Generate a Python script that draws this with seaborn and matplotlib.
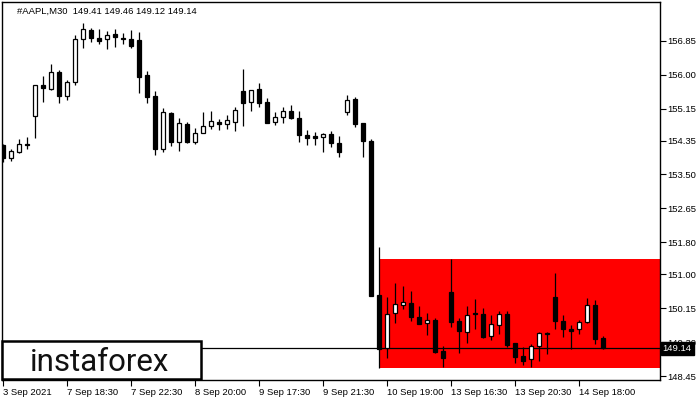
import numpy as np
import pandas as pd
import matplotlib
matplotlib.use("Agg")
import matplotlib.pyplot as plt
from matplotlib.patches import Rectangle
import seaborn as sns

# M30 candles
opens = [154.24, 153.91, 154.06, 154.26, 154.97, 155.73, 155.64, 156.06, 155.47, 155.82,
         156.89, 157.12, 156.91, 156.89, 157.01, 156.93, 156.89, 156.87, 155.99, 155.46,
         154.13, 155.03, 154.32, 154.76, 154.32, 154.54, 154.72, 154.81, 154.76, 154.82,
         155.59, 155.32, 155.63, 155.31, 154.82, 154.93, 155.10, 154.91, 154.49, 154.46,
         154.43, 154.51, 154.28, 155.07, 155.39, 154.78, 154.34, 150.48, 149.16, 150.02,
         150.24, 150.28, 149.92, 149.79, 149.85, 149.08, 150.55, 149.83, 149.56, 150.03,
         150.00, 149.46, 149.72, 150.00, 149.27, 148.95, 148.87, 149.21, 149.53, 150.42,
         149.83, 149.63, 149.63, 149.80, 150.22, 149.41]
highs = [154.27, 154.14, 154.39, 154.44, 155.74, 155.97, 156.27, 156.12, 155.87, 156.99,
         157.29, 157.16, 157.14, 157.09, 157.14, 157.05, 157.12, 157.06, 156.10, 155.59,
         155.16, 155.07, 154.91, 154.82, 154.67, 155.07, 155.10, 154.88, 154.99, 155.20,
         156.13, 155.61, 155.78, 155.41, 155.07, 155.20, 155.24, 155.09, 154.61, 154.57,
         154.53, 154.59, 154.46, 155.49, 155.43, 154.78, 154.39, 151.67, 150.42, 150.79,
         150.71, 150.58, 150.20, 150.02, 149.90, 149.20, 151.38, 149.90, 150.20, 150.37,
         150.15, 149.97, 150.08, 150.08, 149.27, 149.17, 149.25, 149.56, 149.55, 151.04,
         149.98, 149.73, 149.85, 150.40, 150.35, 149.46]
lows = [153.81, 153.84, 154.04, 154.14, 154.41, 155.32, 155.61, 155.29, 155.36, 155.74,
        156.66, 156.83, 156.77, 156.63, 156.70, 156.77, 156.66, 155.53, 155.30, 153.99,
        154.07, 154.21, 154.09, 154.28, 154.26, 154.53, 154.65, 154.61, 154.63, 154.60,
        154.71, 155.10, 155.18, 154.79, 154.74, 154.80, 154.88, 154.32, 154.24, 154.24,
        154.07, 154.18, 153.94, 154.99, 154.70, 153.94, 150.46, 148.66, 148.89, 149.79,
        150.12, 149.84, 149.76, 149.48, 149.02, 148.68, 149.67, 149.02, 149.27, 149.62,
        149.41, 149.35, 149.50, 149.18, 148.78, 148.73, 148.67, 148.83, 149.00, 149.62,
        149.42, 149.12, 149.50, 149.77, 149.25, 149.12]
closes = [153.91, 154.09, 154.26, 154.24, 155.74, 155.67, 156.06, 155.47, 155.82, 156.89,
          157.14, 156.91, 156.85, 156.99, 156.95, 156.89, 156.72, 155.95, 155.45, 154.13,
          155.06, 154.32, 154.78, 154.32, 154.55, 154.71, 154.84, 154.76, 154.86, 155.11,
          155.30, 155.61, 155.28, 154.80, 154.95, 155.10, 154.91, 154.49, 154.42, 154.42,
          154.51, 154.28, 154.07, 155.36, 154.76, 154.34, 150.46, 149.13, 150.00, 150.25,
          150.30, 149.94, 149.76, 149.85, 149.06, 148.91, 149.81, 149.58, 149.99, 150.01,
          149.43, 149.75, 150.00, 149.23, 148.92, 148.83, 149.21, 149.52, 149.51, 149.84,
          149.63, 149.58, 149.80, 150.22, 149.38, 149.14]

price_ticks = [148.45, 149.30, 150.15, 151.00, 151.80, 152.65, 153.50, 154.35, 155.15, 156.00, 156.85]
time_labels = ["3 Sep 2021", "7 Sep 18:30", "7 Sep 22:30", "8 Sep 20:00", "9 Sep 17:30",
               "9 Sep 21:30", "10 Sep 19:00", "13 Sep 16:30", "13 Sep 20:30", "14 Sep 18:00"]
label_step = 8

symbol = "#AAPL,M30"
pattern_start = 47
pattern_top = 151.38
pattern_bottom = 148.66

sns.set_theme(style="white")
plt.rcParams["font.family"] = ["Liberation Sans", "DejaVu Sans"]

df = pd.DataFrame({"open": opens, "high": highs, "low": lows, "close": closes})
df["idx"] = np.arange(len(df))
df["up"] = df["close"] >= df["open"]
df["body_lo"] = df[["open", "close"]].min(axis=1)
df["body_h"] = (df["close"] - df["open"]).abs().clip(lower=0.004)
last = df.iloc[-1]

fig = plt.figure(figsize=(7, 4), dpi=100)
fig.patch.set_facecolor("white")
ax = fig.add_axes([2 / 700, 1 - 380 / 400, 658 / 700, 378 / 400])
ax.set_facecolor("white")

# pattern rectangle
ax.add_patch(Rectangle((pattern_start, pattern_bottom), 60, pattern_top - pattern_bottom,
                       facecolor="#ff0000", edgecolor="none", zorder=1))

# bid line
ax.axhline(last["close"], color="black", lw=0.9, zorder=2)

# candles
ax.vlines(df["idx"], df["low"], df["high"], color="black", lw=0.9, zorder=3)
ax.bar(df["idx"], df["body_h"], bottom=df["body_lo"], width=0.62,
       color=np.where(df["up"], "white", "black"), edgecolor="black", linewidth=0.9, zorder=4)

ax.set_xlim(-0.125, 82.125)
ax.set_ylim(148.35, 157.82)

for s in ax.spines.values():
    s.set_color("black")
    s.set_linewidth(1.0)

ax.yaxis.tick_right()
ax.set_yticks(price_ticks)
ax.set_yticklabels([f"{v:.2f}" for v in price_ticks])
ax.set_xticks(np.arange(len(time_labels)) * label_step)
ax.set_xticklabels(time_labels)
for lbl in ax.get_xticklabels():
    lbl.set_horizontalalignment("left")
ax.tick_params(axis="both", which="major", direction="out", length=4, width=0.8,
               color="black", labelsize=6.8, labelcolor="black", pad=1.5)
ax.tick_params(axis="y", right=True, left=False)
ax.tick_params(axis="x", bottom=True)
ax.set_xlabel("")
ax.set_ylabel("")
ax.grid(False)

# current price tag
ax.text(1.004, last["close"], f"{last['close']:.2f}", transform=ax.get_yaxis_transform(),
        ha="left", va="center", fontsize=6.8, color="white", zorder=10,
        bbox=dict(boxstyle="square,pad=0.2", facecolor="black", edgecolor="black"))

# header
head = symbol + "  " + " ".join(f"{v:.2f}" for v in [last["open"], last["high"], last["low"], last["close"]])
fig.text(17 / 700, 1 - 11 / 400, head, ha="left", va="center", fontsize=6.8, color="black")

# logo box
fig.add_artist(Rectangle((2 / 700, 1 - 379 / 400), 199 / 700, 38 / 400, transform=fig.transFigure,
                         facecolor="white", edgecolor="black", linewidth=1.8, zorder=5))
fig.text(100 / 700, 1 - 371 / 400, "instaforex", ha="center", va="baseline",
         fontsize=22.5, color="#111111", family=["Roboto", "DejaVu Sans"], fontweight="normal", zorder=6)

fig.savefig("out.png", dpi=100, facecolor="white")
